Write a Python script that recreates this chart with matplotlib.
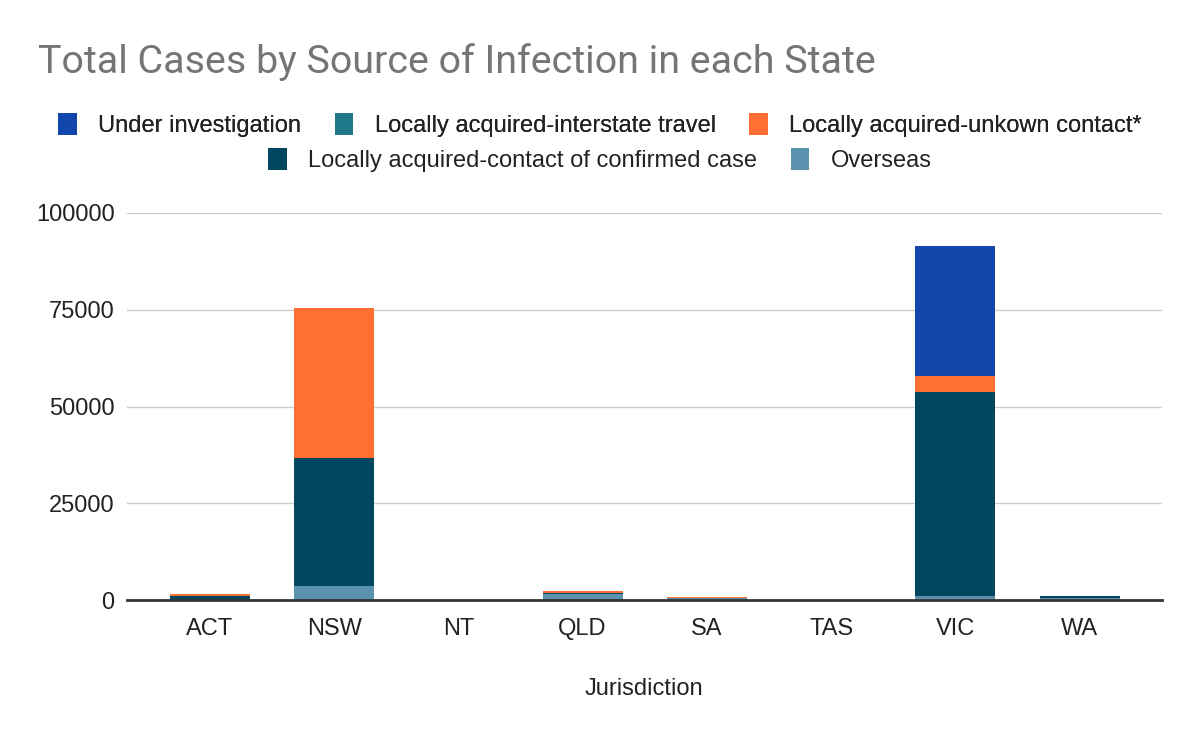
import matplotlib
matplotlib.use("Agg")
import matplotlib.pyplot as plt
from matplotlib.patches import Patch
import numpy as np

states = ["ACT", "NSW", "NT", "QLD", "SA", "TAS", "VIC", "WA"]
overseas = [100, 3600, 80, 1550, 600, 100, 1100, 600]
contact_confirmed = [1000, 33100, 20, 300, 100, 30, 52650, 500]
interstate_travel = [20, 50, 10, 40, 10, 5, 20, 20]
unknown_contact = [500, 38750, 10, 400, 50, 10, 4100, 30]
under_investigation = [0, 0, 0, 0, 0, 0, 33600, 0]

series_names = ["Under investigation", "Locally acquired-interstate travel",
                "Locally acquired-unkown contact*",
                "Locally acquired-contact of confirmed case", "Overseas"]
colors = {
    "Under investigation": "#1146AA",
    "Locally acquired-interstate travel": "#1E7887",
    "Locally acquired-unkown contact*": "#FF6F31",
    "Locally acquired-contact of confirmed case": "#01475F",
    "Overseas": "#5B93AF",
}
stack_order = [("Overseas", overseas),
               ("Locally acquired-contact of confirmed case", contact_confirmed),
               ("Locally acquired-interstate travel", interstate_travel),
               ("Locally acquired-unkown contact*", unknown_contact),
               ("Under investigation", under_investigation)]

plt.rcParams['font.family'] = ['Liberation Sans', 'DejaVu Sans']

fig = plt.figure(figsize=(12, 7.42), dpi=100)
ax = fig.add_axes([0.106, 0.191, 0.862, 0.522])

x = np.arange(len(states))
bottom = np.zeros(len(states))
for name, vals in stack_order:
    v = np.array(vals, dtype=float)
    ax.bar(x, v, bottom=bottom, width=0.644, color=colors[name], zorder=3)
    bottom += v

ax.set_ylim(0, 100000)
ax.set_xlim(-0.665, 7.66)
ax.set_yticks([0, 25000, 50000, 75000, 100000])
ax.set_yticklabels(["0", "25000", "50000", "75000", "100000"])
ax.set_xticks(x)
ax.set_xticklabels(states)
ax.tick_params(axis='both', length=0, labelsize=17, colors="#222222")
ax.tick_params(axis='x', pad=13)
ax.tick_params(axis='y', pad=9)
ax.grid(axis='y', color="#cccccc", linewidth=1, zorder=0)
for s in ["left", "right", "top"]:
    ax.spines[s].set_visible(False)
ax.spines["bottom"].set_color("#333333")
ax.spines["bottom"].set_linewidth(2)
ax.spines["bottom"].set_zorder(4)
ax.set_xlabel("Jurisdiction", fontsize=17, color="#222222", labelpad=27)

fig.text(0.032, 0.916, "Total Cases by Source of Infection in each State",
         fontsize=28.4, color="#757575", family=["Roboto", "DejaVu Sans"],
         va="center", ha="left")

def make_handles(names):
    return [Patch(facecolor=colors[n], edgecolor="none", label=n) for n in names]

row1 = series_names[:3]
row2 = series_names[3:]
common = dict(loc="center", frameon=False, fontsize=17, handlelength=0.8,
              handleheight=1.05, columnspacing=1.4, handletextpad=0.9,
              labelcolor="#222222", borderpad=0, borderaxespad=0)
leg1 = fig.legend(handles=make_handles(row1), bbox_to_anchor=(0.5, 0.8315), ncol=3, **common)
leg2 = fig.legend(handles=make_handles(row2), bbox_to_anchor=(0.5, 0.784), ncol=2, **common)
fig.add_artist(leg1)

fig.savefig("out.png", dpi=100, facecolor="white")
